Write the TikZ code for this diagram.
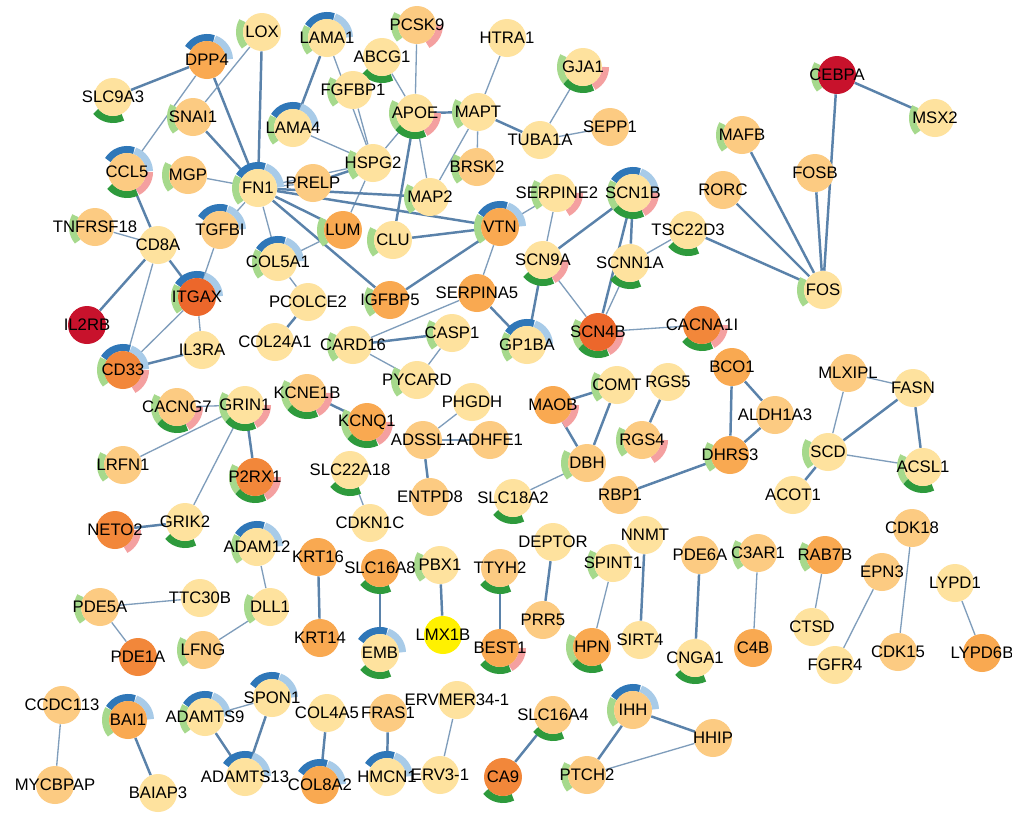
\documentclass[tikz,border=0pt]{standalone}
\usepackage{fontspec}
\setmainfont{Liberation Sans}
\usepackage{xcolor}
\usepackage{tikz}

\definecolor{fillLt}{HTML}{FEE29E}
\definecolor{fillMd}{HTML}{FCCB82}
\definecolor{fillOr}{HTML}{F9A951}
\definecolor{fillDk}{HTML}{F2873A}
\definecolor{fillDp}{HTML}{EC672B}
\definecolor{fillRd}{HTML}{C8122C}
\definecolor{fillYe}{HTML}{FFF100}
\definecolor{ringdb}{HTML}{2F77B8}
\definecolor{ringlb}{HTML}{A8CBE8}
\definecolor{ringpk}{HTML}{F4A0A0}
\definecolor{ringdg}{HTML}{2E9A3C}
\definecolor{ringlg}{HTML}{A6D98C}
\definecolor{edgeLt}{HTML}{7F9DBB}
\definecolor{edgeDk}{HTML}{5A82AA}

\pgfdeclarelayer{edges}
\pgfdeclarelayer{rings}
\pgfsetlayers{edges,rings,main}

% angular slots of the annotation ring
\def\begdb{72}   \def\enddb{148}
\def\beglb{2}    \def\endlb{70}
\def\begpk{-62}  \def\endpk{0}
\def\begdg{-140} \def\enddg{-64}
\def\beglg{150}  \def\endlg{220}

\newcommand{\gene}[4]{\node[#1] (#2) at (#3) {\makebox[0pt]{#4}};}
\newcommand{\ring}[2]{%
  \foreach \s in {#2}{%
    \edef\a{\csname beg\s\endcsname}\edef\b{\csname end\s\endcsname}%
    \draw[ringarc, draw=ring\s] (#1.center) ++(\a:22.5) arc[start angle=\a, end angle=\b, radius=22.5];}}

\begin{document}
\begin{tikzpicture}[
  x=0.02cm, y=0.02cm,
  gene/.style={circle, minimum size=0.76cm, inner sep=0pt, font=\fontsize{9.5}{11}\selectfont},
  gLt/.style={gene, fill=fillLt},
  gMd/.style={gene, fill=fillMd},
  gOr/.style={gene, fill=fillOr},
  gDk/.style={gene, fill=fillDk},
  gDp/.style={gene, fill=fillDp},
  gRd/.style={gene, fill=fillRd},
  gYe/.style={gene, fill=fillYe},
  link/.style={line width=0.75pt, draw=edgeLt},
  strong/.style={line width=1.4pt, draw=edgeDk},
  ringarc/.style={line width=4pt}
]
  \useasboundingbox (0,-816) rectangle (1012,0);

  % upper left: matrix and immune genes
  \gene{gLt}{LOX}{262,-32}{LOX}
  \gene{gLt}{LAMA1}{327,-38}{LAMA1}
  \gene{gOr}{DPP4}{207,-60}{DPP4}
  \gene{gLt}{SLC9A3}{113,-97}{SLC9A3}
  \gene{gMd}{SNAI1}{193,-117}{SNAI1}
  \gene{gLt}{LAMA4}{293,-128}{LAMA4}
  \gene{gMd}{CCL5}{127,-172}{CCL5}
  \gene{gMd}{MGP}{188,-175}{MGP}
  \gene{gLt}{FN1}{258,-188}{FN1}
  \gene{gMd}{PRELP}{313,-183}{PRELP}
  \gene{gMd}{TNFRSF18}{95,-227}{TNFRSF18}
  \gene{gLt}{CD8A}{158,-245}{CD8A}
  \gene{gMd}{TGFBI}{220,-230}{TGFBI}
  \gene{gLt}{COL5A1}{278,-262}{COL5A1}
  \gene{gMd}{PCSK9}{417,-25}{PCSK9}
  \gene{gLt}{ABCG1}{382,-57}{ABCG1}
  \gene{gLt}{FGFBP1}{353,-90}{FGFBP1}
  \gene{gLt}{HTRA1}{507,-38}{HTRA1}
  \gene{gLt}{GJA1}{583,-67}{GJA1}
  \gene{gLt}{APOE}{415,-113}{APOE}
  \gene{gLt}{MAPT}{478,-112}{MAPT}
  \gene{gLt}{TUBA1A}{540,-140}{TUBA1A}
  \gene{gMd}{SEPP1}{610,-127}{SEPP1}
  \gene{gLt}{HSPG2}{373,-163}{HSPG2}
  \gene{gMd}{BRSK2}{477,-167}{BRSK2}
  \gene{gLt}{MAP2}{430,-197}{MAP2}
  \gene{gLt}{SERPINE2}{557,-193}{SERPINE2}
  \gene{gLt}{SCN1B}{633,-193}{SCN1B}
  \gene{gOr}{LUM}{343,-230}{LUM}
  \gene{gLt}{CLU}{393,-240}{CLU}
  \gene{gOr}{VTN}{500,-227}{VTN}
  \gene{gLt}{SCN9A}{543,-260}{SCN9A}
  \gene{gLt}{SCNN1A}{630,-263}{SCNN1A}

  % FOS star
  \gene{gRd}{CEBPA}{837,-75}{CEBPA}
  \gene{gLt}{MSX2}{935,-118}{MSX2}
  \gene{gMd}{MAFB}{742,-135}{MAFB}
  \gene{gMd}{FOSB}{815,-173}{FOSB}
  \gene{gMd}{RORC}{723,-190}{RORC}
  \gene{gLt}{TSC22D3}{688,-230}{TSC22D3}
  \gene{gLt}{FOS}{823,-290}{FOS}

  % middle band
  \gene{gDp}{ITGAX}{197,-297}{ITGAX}
  \gene{gRd}{IL2RB}{87,-325}{IL2RB}
  \gene{gDk}{CD33}{123,-370}{CD33}
  \gene{gLt}{IL3RA}{202,-350}{IL3RA}
  \gene{gLt}{PCOLCE2}{308,-302}{PCOLCE2}
  \gene{gLt}{COL24A1}{275,-342}{COL24A1}
  \gene{gMd}{CACNG7}{177,-407}{CACNG7}
  \gene{gLt}{GRIN1}{245,-405}{GRIN1}
  \gene{gMd}{KCNE1B}{307,-393}{KCNE1B}
  \gene{gMd}{LRFN1}{123,-465}{LRFN1}
  \gene{gDk}{P2RX1}{255,-477}{P2RX1}
  \gene{gDk}{NETO2}{115,-530}{NETO2}
  \gene{gLt}{GRIK2}{185,-522}{GRIK2}
  \gene{gOr}{IGFBP5}{390,-300}{IGFBP5}
  \gene{gOr}{SERPINA5}{477,-293}{SERPINA5}
  \gene{gLt}{CASP1}{452,-333}{CASP1}
  \gene{gLt}{CARD16}{353,-345}{CARD16}
  \gene{gLt}{GP1BA}{527,-345}{GP1BA}
  \gene{gDp}{SCN4B}{598,-332}{SCN4B}
  \gene{gLt}{PYCARD}{417,-380}{PYCARD}
  \gene{gLt}{PHGDH}{472,-402}{PHGDH}
  \gene{gOr}{KCNQ1}{367,-422}{KCNQ1}
  \gene{gMd}{ADSSL1}{423,-440}{ADSSL1}
  \gene{gMd}{ADHFE1}{490,-440}{ADHFE1}
  \gene{gOr}{MAOB}{553,-405}{MAOB}
  \gene{gLt}{COMT}{617,-385}{COMT}
  \gene{gLt}{RGS5}{668,-382}{RGS5}
  \gene{gMd}{RGS4}{642,-440}{RGS4}
  \gene{gMd}{DBH}{587,-463}{DBH}
  \gene{gMd}{RBP1}{620,-495}{RBP1}
  \gene{gLt}{SLC22A18}{350,-470}{SLC22A18}
  \gene{gLt}{CDKN1C}{370,-523}{CDKN1C}
  \gene{gMd}{ENTPD8}{430,-497}{ENTPD8}
  \gene{gLt}{SLC18A2}{513,-498}{SLC18A2}
  \gene{gOr}{DHRS3}{730,-455}{DHRS3}
  \gene{gDk}{CACNA1I}{702,-325}{CACNA1I}
  \gene{gOr}{BCO1}{732,-367}{BCO1}
  \gene{gMd}{ALDH1A3}{775,-415}{ALDH1A3}
  \gene{gMd}{MLXIPL}{848,-373}{MLXIPL}
  \gene{gLt}{FASN}{913,-388}{FASN}
  \gene{gLt}{SCD}{828,-452}{SCD}
  \gene{gLt}{ACSL1}{923,-467}{ACSL1}
  \gene{gLt}{ACOT1}{793,-495}{ACOT1}
  \gene{gMd}{CDK18}{912,-528}{CDK18}

  % lower part: small components
  \gene{gLt}{ADAM12}{257,-547}{ADAM12}
  \gene{gOr}{KRT16}{318,-557}{KRT16}
  \gene{gMd}{PDE5A}{100,-607}{PDE5A}
  \gene{gLt}{TTC30B}{200,-598}{TTC30B}
  \gene{gLt}{DLL1}{270,-607}{DLL1}
  \gene{gOr}{KRT14}{320,-638}{KRT14}
  \gene{gDk}{PDE1A}{138,-657}{PDE1A}
  \gene{gMd}{LFNG}{203,-650}{LFNG}
  \gene{gMd}{CCDC113}{62,-705}{CCDC113}
  \gene{gOr}{BAI1}{128,-720}{BAI1}
  \gene{gLt}{ADAMTS9}{205,-717}{ADAMTS9}
  \gene{gLt}{SPON1}{272,-698}{SPON1}
  \gene{gLt}{COL4A5}{327,-713}{COL4A5}
  \gene{gMd}{MYCBPAP}{55,-785}{MYCBPAP}
  \gene{gLt}{BAIAP3}{158,-793}{BAIAP3}
  \gene{gLt}{ADAMTS13}{245,-777}{ADAMTS13}
  \gene{gOr}{COL8A2}{320,-785}{COL8A2}
  \gene{gOr}{SLC16A8}{380,-568}{SLC16A8}
  \gene{gLt}{PBX1}{440,-565}{PBX1}
  \gene{gMd}{TTYH2}{500,-568}{TTYH2}
  \gene{gLt}{DEPTOR}{553,-542}{DEPTOR}
  \gene{gLt}{SPINT1}{613,-563}{SPINT1}
  \gene{gLt}{NNMT}{645,-535}{NNMT}
  \gene{gLt}{EMB}{380,-653}{EMB}
  \gene{gYe}{LMX1B}{443,-635}{LMX1B}
  \gene{gMd}{PRR5}{543,-620}{PRR5}
  \gene{gOr}{BEST1}{500,-648}{BEST1}
  \gene{gOr}{HPN}{592,-647}{HPN}
  \gene{gLt}{SIRT4}{640,-640}{SIRT4}
  \gene{gMd}{FRAS1}{388,-713}{FRAS1}
  \gene{gLt}{ERVMER}{457,-700}{ERVMER34-1}
  \gene{gMd}{SLC16A4}{553,-715}{SLC16A4}
  \gene{gMd}{IHH}{633,-710}{IHH}
  \gene{gLt}{HMCN1}{387,-777}{HMCN1}
  \gene{gLt}{ERVthree}{440,-775}{ERV3-1}
  \gene{gDk}{CA9}{503,-777}{CA9}
  \gene{gMd}{PTCH2}{587,-775}{PTCH2}
  \gene{gMd}{PDE6A}{700,-555}{PDE6A}
  \gene{gMd}{C3AR1}{758,-553}{C3AR1}
  \gene{gOr}{RAB7B}{825,-555}{RAB7B}
  \gene{gMd}{EPN3}{882,-572}{EPN3}
  \gene{gLt}{LYPD1}{955,-583}{LYPD1}
  \gene{gLt}{CTSD}{812,-627}{CTSD}
  \gene{gOr}{C4B}{753,-648}{C4B}
  \gene{gLt}{CNGA1}{695,-658}{CNGA1}
  \gene{gLt}{FGFR4}{835,-665}{FGFR4}
  \gene{gMd}{CDK15}{898,-652}{CDK15}
  \gene{gOr}{LYPD6B}{982,-653}{LYPD6B}
  \gene{gMd}{HHIP}{713,-738}{HHIP}

  % annotation rings
  \begin{pgfonlayer}{rings}
    \ring{LOX}{lg}            \ring{LAMA1}{db,lb,lg}   \ring{DPP4}{db,lb}
    \ring{SLC9A3}{dg}         \ring{SNAI1}{lg}         \ring{LAMA4}{db,lb,lg}
    \ring{CCL5}{db,lb,pk,dg}  \ring{MGP}{lg}           \ring{FN1}{db,lb,lg}
    \ring{TNFRSF18}{lg}       \ring{TGFBI}{db,lb}      \ring{COL5A1}{db,lb,lg}
    \ring{PCSK9}{lg,pk}       \ring{ABCG1}{dg}         \ring{FGFBP1}{lg}
    \ring{GJA1}{lg,dg,pk}     \ring{APOE}{lg,dg,pk}    \ring{MAPT}{lg}
    \ring{HSPG2}{lg}          \ring{BRSK2}{lg}         \ring{MAP2}{lg}
    \ring{SERPINE2}{lg,pk}    \ring{SCN1B}{db,lb,pk,dg,lg}
    \ring{LUM}{lg}            \ring{CLU}{lg}           \ring{VTN}{db,lb,lg}
    \ring{SCN9A}{dg,pk}       \ring{SCNN1A}{dg}        \ring{CEBPA}{lg}
    \ring{MSX2}{lg}           \ring{MAFB}{lg}          \ring{TSC22D3}{dg}
    \ring{FOS}{lg}            \ring{ITGAX}{db,lb,lg}   \ring{CD33}{db,lb,pk,lg}
    \ring{CACNG7}{lg,dg,pk}   \ring{GRIN1}{lg,dg,pk}   \ring{KCNE1B}{lg,dg,pk}
    \ring{LRFN1}{lg}          \ring{P2RX1}{lg,dg,pk}   \ring{NETO2}{pk}
    \ring{GRIK2}{dg}          \ring{IGFBP5}{lg}        \ring{CASP1}{lg}
    \ring{CARD16}{lg}         \ring{GP1BA}{db,lb,lg}   \ring{SCN4B}{lg,dg,pk}
    \ring{PYCARD}{lg}         \ring{KCNQ1}{lg,dg,pk}   \ring{MAOB}{pk}
    \ring{COMT}{lg}           \ring{RGS4}{lg,pk}       \ring{DBH}{lg}
    \ring{SLC22A18}{dg}       \ring{SLC18A2}{dg}       \ring{DHRS3}{lg}
    \ring{CACNA1I}{dg,pk}     \ring{SCD}{lg}           \ring{ACSL1}{lg,dg}
    \ring{ADAM12}{db,lb,lg}   \ring{PDE5A}{lg}         \ring{DLL1}{lg}
    \ring{LFNG}{lg}           \ring{BAI1}{db,lb,lg}    \ring{ADAMTS9}{db,lb,lg}
    \ring{SPON1}{db,lb}       \ring{ADAMTS13}{db,lb}   \ring{COL8A2}{db,lb}
    \ring{SLC16A8}{dg}        \ring{PBX1}{lg}          \ring{TTYH2}{dg}
    \ring{SPINT1}{lg}         \ring{EMB}{db,lb,dg}     \ring{BEST1}{dg,pk}
    \ring{HPN}{lg,dg}         \ring{SLC16A4}{dg}       \ring{IHH}{db,lb,lg}
    \ring{HMCN1}{db,lb}       \ring{CA9}{dg}           \ring{PTCH2}{lg}
    \ring{C3AR1}{lg}          \ring{RAB7B}{lg}         \ring{CNGA1}{dg}
  \end{pgfonlayer}

  % interactions
  \begin{pgfonlayer}{edges}
  \fill[white] (0,-816) rectangle (1012,0);
  \draw[strong] (SLC9A3) -- (DPP4);
  \draw[strong] (DPP4) -- (FN1);
  \draw[link] (CCL5) -- (DPP4);
  \draw[link] (SNAI1) -- (LOX);
  \draw[strong] (LOX) -- (FN1);
  \draw[strong] (LAMA1) -- (LAMA4);
  \draw[link] (LAMA1) -- (HSPG2);
  \draw[link] (FGFBP1) -- (HSPG2);
  \draw[link] (LAMA4) -- (HSPG2);
  \draw[link] (ABCG1) -- (APOE);
  \draw[link] (PCSK9) -- (APOE);
  \draw[strong] (APOE) -- (MAPT);
  \draw[link] (APOE) -- (HSPG2);
  \draw[link] (APOE) -- (MAP2);
  \draw[strong] (APOE) -- (CLU);
  \draw[link] (HTRA1) -- (MAPT);
  \draw[strong] (MAPT) -- (TUBA1A);
  \draw[link] (MAPT) -- (MAP2);
  \draw[link] (MAPT) -- (BRSK2);
  \draw[link] (GJA1) -- (TUBA1A);
  \draw[link] (TUBA1A) -- (SEPP1);
  \draw[strong] (HSPG2) -- (PRELP);
  \draw[link] (HSPG2) -- (LUM);
  \draw[link] (FN1) -- (HSPG2);
  \draw[link] (FN1) -- (PRELP);
  \draw[strong] (FN1) -- (MAP2);
  \draw[strong] (FN1) -- (VTN);
  \draw[strong] (FN1) -- (SNAI1);
  \draw[link] (FN1) -- (MGP);
  \draw[link] (FN1) -- (TGFBI);
  \draw[link] (FN1) -- (COL5A1);
  \draw[strong] (FN1) -- (LUM);
  \draw[strong] (FN1) -- (IGFBP5);
  \draw[link] (COL5A1) -- (LUM);
  \draw[strong] (CLU) -- (VTN);
  \draw[strong] (VTN) -- (IGFBP5);
  \draw[link] (VTN) -- (SERPINE2);
  \draw[link] (VTN) -- (SERPINA5);
  \draw[link] (SERPINE2) -- (SCN9A);
  \draw[strong] (SCN9A) -- (SCN1B);
  \draw[strong] (SCN1B) -- (SCNN1A);
  \draw[strong] (SCN1B) -- (SCN4B);
  \draw[link] (SCNN1A) -- (SCN4B);
  \draw[link] (SCN9A) -- (SCN4B);
  \draw[strong] (SCN9A) -- (GP1BA);
  \draw[strong] (SERPINA5) -- (GP1BA);
  \draw[link] (SERPINA5) -- (CARD16);
  \draw[strong] (CARD16) -- (CASP1);
  \draw[link] (CASP1) -- (PYCARD);
  \draw[link] (CARD16) -- (PYCARD);
  \draw[link] (SCN4B) -- (CACNA1I);
  \draw[link] (TSC22D3) -- (SCNN1A);
  \draw[strong] (TSC22D3) -- (FOS);
  \draw[strong] (RORC) -- (FOS);
  \draw[strong] (MAFB) -- (FOS);
  \draw[strong] (FOSB) -- (FOS);
  \draw[strong] (CEBPA) -- (FOS);
  \draw[strong] (CEBPA) -- (MSX2);
  \draw[strong] (CCL5) -- (CD8A);
  \draw[link] (TNFRSF18) -- (CD8A);
  \draw[strong] (CD8A) -- (IL2RB);
  \draw[link] (CD8A) -- (CD33);
  \draw[strong] (CD8A) -- (ITGAX);
  \draw[link] (TGFBI) -- (ITGAX);
  \draw[link] (ITGAX) -- (CD33);
  \draw[link] (ITGAX) -- (IL3RA);
  \draw[strong] (CD33) -- (IL3RA);
  \draw[strong] (PCOLCE2) -- (COL24A1);
  \draw[link] (PCOLCE2) -- (COL5A1);
  \draw[link] (CACNG7) -- (GRIN1);
  \draw[link] (GRIN1) -- (LRFN1);
  \draw[strong] (GRIN1) -- (P2RX1);
  \draw[link] (GRIN1) -- (GRIK2);
  \draw[strong] (GRIK2) -- (NETO2);
  \draw[strong] (KCNE1B) -- (KCNQ1);
  \draw[link] (PHGDH) -- (ADSSL1);
  \draw[link] (ADSSL1) -- (ADHFE1);
  \draw[strong] (ADSSL1) -- (ENTPD8);
  \draw[link] (SLC22A18) -- (CDKN1C);
  \draw[strong] (MAOB) -- (COMT);
  \draw[strong] (MAOB) -- (DBH);
  \draw[strong] (COMT) -- (DBH);
  \draw[strong] (RGS5) -- (RGS4);
  \draw[link] (DBH) -- (SLC18A2);
  \draw[strong] (RBP1) -- (DHRS3);
  \draw[strong] (BCO1) -- (DHRS3);
  \draw[strong] (BCO1) -- (ALDH1A3);
  \draw[strong] (ALDH1A3) -- (DHRS3);
  \draw[link] (MLXIPL) -- (FASN);
  \draw[link] (MLXIPL) -- (SCD);
  \draw[strong] (FASN) -- (SCD);
  \draw[strong] (FASN) -- (ACSL1);
  \draw[link] (SCD) -- (ACSL1);
  \draw[strong] (SCD) -- (ACOT1);
  \draw[link] (CDK18) -- (CDK15);
  \draw[link] (ADAM12) -- (DLL1);
  \draw[strong] (KRT16) -- (KRT14);
  \draw[link] (PDE5A) -- (TTC30B);
  \draw[link] (PDE5A) -- (PDE1A);
  \draw[link] (DLL1) -- (LFNG);
  \draw[strong] (SLC16A8) -- (EMB);
  \draw[strong] (PBX1) -- (LMX1B);
  \draw[strong] (TTYH2) -- (BEST1);
  \draw[strong] (DEPTOR) -- (PRR5);
  \draw[link] (SPINT1) -- (HPN);
  \draw[strong] (NNMT) -- (SIRT4);
  \draw[strong] (PDE6A) -- (CNGA1);
  \draw[link] (C3AR1) -- (C4B);
  \draw[link] (RAB7B) -- (CTSD);
  \draw[link] (EPN3) -- (FGFR4);
  \draw[link] (LYPD1) -- (LYPD6B);
  \draw[link] (CCDC113) -- (MYCBPAP);
  \draw[strong] (BAI1) -- (BAIAP3);
  \draw[link] (ADAMTS9) -- (SPON1);
  \draw[strong] (ADAMTS9) -- (ADAMTS13);
  \draw[strong] (SPON1) -- (ADAMTS13);
  \draw[strong] (COL4A5) -- (COL8A2);
  \draw[strong] (FRAS1) -- (HMCN1);
  \draw[link] (ERVMER) -- (ERVthree);
  \draw[strong] (SLC16A4) -- (CA9);
  \draw[strong] (IHH) -- (PTCH2);
  \draw[strong] (IHH) -- (HHIP);
  \draw[link] (PTCH2) -- (HHIP);
  \end{pgfonlayer}
\end{tikzpicture}
\end{document}
